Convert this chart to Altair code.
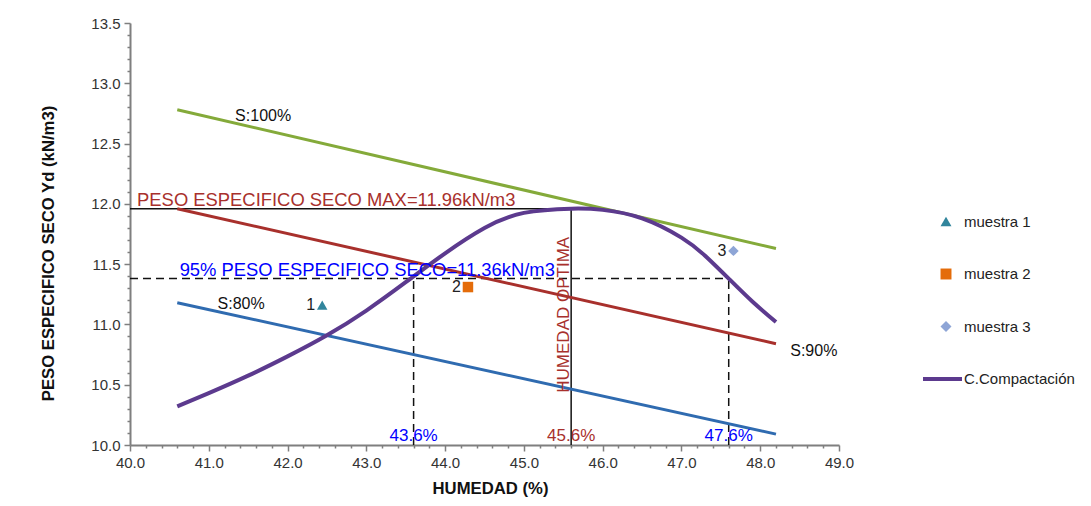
import altair as alt
import pandas as pd

# ---------------- data ----------------
sat_x = [40.6, 48.2]
s100_y = [12.78, 11.63]
s90_y = [11.96, 10.84]
s80_y = [11.18, 10.09]

curve_x = [40.6, 41.0, 41.5, 42.0, 42.5, 43.0, 43.5, 44.0, 44.5, 45.0, 45.6,
           46.0, 46.5, 47.0, 47.3, 47.6, 47.9, 48.2]
curve_y = [10.32, 10.43, 10.575, 10.735, 10.91, 11.115, 11.35, 11.59, 11.80, 11.925, 11.96,
           11.95, 11.88, 11.72, 11.57, 11.38, 11.19, 11.02]

sample_names = ["muestra 1", "muestra 2", "muestra 3"]
sample_tags = ["1", "2", "3"]
sample_x = [42.44, 44.29, 47.66]
sample_y = [11.16, 11.31, 11.61]
curve_name = "C.Compactación"
legend_items = sample_names + [curve_name]
legend_rows = [0, 1, 2, 3]

yd_max = 11.96
yd_95 = 11.38
w_opt = 45.6
w_low = 43.6
w_high = 47.6
x_lo, x_hi = 40.0, 49.0
y_lo, y_hi = 10.0, 13.5

x_ticks = [round(40.0 + 0.2 * i, 1) for i in range(46)]
y_ticks = [round(10.0 + 0.1 * i, 1) for i in range(36)]

# ---------------- styles ----------------
GREEN, RED, BLUE, PURPLE = "#84AA3A", "#A8302C", "#2F6BB0", "#5C3A8E"
SAMPLE_COLORS = ["#31859C", "#E46C0A", "#8EA5D6"]
SAMPLE_SHAPES = ["triangle-up", "square", "diamond"]
FONT = "Liberation Sans"

xs = alt.Scale(domain=[x_lo, x_hi], nice=False, zero=False)
ys = alt.Scale(domain=[y_lo, y_hi], nice=False, zero=False)

x_major = "abs(datum.value - round(datum.value)) < 0.001"
y_major = "abs(datum.value * 2 - round(datum.value * 2)) < 0.001"

x_axis = alt.Axis(
    values=x_ticks, grid=False, labelFlush=False, labelOverlap=False,
    tickSize={"condition": {"test": x_major, "value": 6}, "value": 3},
    labelExpr=x_major + " ? format(datum.value, '.1f') : ''",
    title="HUMEDAD (%)", titleX=360, titleY=43, titleBaseline="middle",
)
y_axis = alt.Axis(
    values=y_ticks, grid=False, labelFlush=False, labelOverlap=False,
    tickSize={"condition": {"test": y_major, "value": 6}, "value": 3},
    labelExpr=y_major + " ? format(datum.value, '.1f') : ''",
    title="PESO ESPECIFICO SECO Yd (kN/m3)", titleAngle=270, titleX=-82, titleY=230,
    titleBaseline="middle", titleAlign="center",
)

X = alt.X("x:Q", scale=xs, axis=x_axis)
Y = alt.Y("y:Q", scale=ys, axis=y_axis)

sat_df = pd.DataFrame({
    "serie": ["S100"] * 2 + ["S90"] * 2 + ["S80"] * 2,
    "x": sat_x * 3,
    "y": s100_y + s90_y + s80_y,
})
curve_df = pd.DataFrame({"x": curve_x, "y": curve_y})
samples_df = pd.DataFrame({"sample": sample_names, "tag": sample_tags, "x": sample_x, "y": sample_y})

solid_df = pd.DataFrame({"x": [x_lo, w_opt], "x2": [w_opt, w_opt], "y": [yd_max, y_lo], "y2": [yd_max, yd_max]})
dash_df = pd.DataFrame({"x": [x_lo, w_low, w_high], "x2": [w_high, w_low, w_high],
                        "y": [yd_95, y_lo, y_lo], "y2": [yd_95, yd_95, yd_95]})

solid = alt.Chart(solid_df).mark_rule(color="#111111", strokeWidth=1.5).encode(x=X, x2="x2:Q", y=Y, y2="y2:Q")
dashed = alt.Chart(dash_df).mark_rule(color="#111111", strokeWidth=1.5, strokeDash=[8, 5]).encode(
    x=X, x2="x2:Q", y=Y, y2="y2:Q")

sat_lines = alt.Chart(sat_df).mark_line(strokeWidth=3).encode(
    x=X, y=Y,
    color=alt.Color("serie:N", scale=alt.Scale(domain=["S100", "S90", "S80"], range=[GREEN, RED, BLUE]), legend=None),
    detail="serie:N")

curve = alt.Chart(curve_df).mark_line(strokeWidth=4, color=PURPLE, interpolate="natural").encode(x=X, y=Y)

pts = alt.Chart(samples_df).mark_point(filled=True, size=110, opacity=1).encode(
    x=X, y=Y,
    color=alt.Color("sample:N", scale=alt.Scale(domain=sample_names, range=SAMPLE_COLORS), legend=None),
    shape=alt.Shape("sample:N", scale=alt.Scale(domain=sample_names, range=SAMPLE_SHAPES), legend=None))

pt_labels = alt.Chart(samples_df).mark_text(font=FONT, fontSize=16, color="#222222", align="right",
                                             baseline="middle", dx=-7).encode(x=X, y=Y, text="tag:N")

# annotations
left_txt = pd.DataFrame({
    "t": ["PESO ESPECIFICO SECO MAX=11.96kN/m3", "95% PESO ESPECIFICO SECO=11.36kN/m3"],
    "x": [40.09, 40.63], "y": [yd_max, yd_95], "c": [RED, "#0000FF"]})
ann_left = alt.Chart(left_txt).mark_text(font=FONT, fontSize=18.4, align="left", baseline="alphabetic", dy=-3).encode(
    x=X, y=Y, text="t:N", color=alt.Color("c:N", scale=None))

s_txt = pd.DataFrame({"t": ["S:100%", "S:80%", "S:90%"], "x": [41.69, 41.41, 48.68], "y": [12.73, 11.17, 10.78]})
ann_s = alt.Chart(s_txt).mark_text(font=FONT, fontSize=16, align="center", baseline="middle", color="#111111").encode(
    x=X, y=Y, text="t:N")

pct_txt = pd.DataFrame({"t": ["43.6%", "45.6%", "47.6%"], "x": [w_low, w_opt, w_high], "y": [y_lo] * 3,
                        "c": ["#0000FF", RED, "#0000FF"]})
ann_pct = alt.Chart(pct_txt).mark_text(font=FONT, fontSize=17, align="center", baseline="alphabetic", dy=-4).encode(
    x=X, y=Y, text="t:N", color=alt.Color("c:N", scale=None))

opt_txt = pd.DataFrame({"t": ["HUMEDAD OPTIMA"], "x": [w_opt], "y": [11.08]})
ann_opt = alt.Chart(opt_txt).mark_text(font=FONT, fontSize=17, align="center", baseline="alphabetic",
                                       angle=270, dy=-2, color=RED).encode(x=X, y=Y, text="t:N")

main = alt.layer(solid, dashed, sat_lines, curve, pts, pt_labels, ann_left, ann_s, ann_pct, ann_opt).resolve_scale(
    color="independent", shape="independent").properties(width=709, height=422)

# ---------------- legend panel ----------------
leg_df = pd.DataFrame({"item": legend_items, "row": legend_rows})
ly = alt.Y("row:Q", scale=alt.Scale(domain=[0, 3], range=[198.5, 356], nice=False, zero=False), axis=None)

leg_pts = alt.Chart(leg_df).transform_filter(alt.datum.item != curve_name).mark_point(
    filled=True, size=120, opacity=1).encode(
    x=alt.value(28), y=ly,
    color=alt.Color("item:N", scale=alt.Scale(domain=sample_names, range=SAMPLE_COLORS), legend=None),
    shape=alt.Shape("item:N", scale=alt.Scale(domain=sample_names, range=SAMPLE_SHAPES), legend=None))
leg_line = alt.Chart(leg_df).transform_filter(alt.datum.item == curve_name).mark_rule(
    strokeWidth=4, color=PURPLE).encode(x=alt.value(5), x2=alt.value(44), y=ly)
leg_txt = alt.Chart(leg_df).mark_text(font=FONT, fontSize=15, align="left", baseline="middle",
                                      color="#222222").encode(x=alt.value(46), y=ly, text="item:N")

legend_panel = alt.layer(leg_pts, leg_line, leg_txt).properties(width=150, height=422)

chart = alt.hconcat(main, legend_panel, spacing=79, bounds="flush").resolve_scale(
    x="independent", y="independent", color="independent", shape="independent"
).properties(
    padding={"left": 32, "top": 8, "right": 0, "bottom": 0}
).configure_view(stroke=None).configure_axis(
    domainColor="#7F7F7F", domainWidth=2, tickColor="#7F7F7F", tickWidth=1.5,
    labelFont=FONT, labelFontSize=15, labelColor="#333333", labelPadding=4, labelOverlap=False,
    titleFont=FONT, titleFontSize=16.7, titleFontWeight="bold", titleColor="#111111",
)

chart.save("out.html", embed_options={"renderer": "svg", "actions": False})
